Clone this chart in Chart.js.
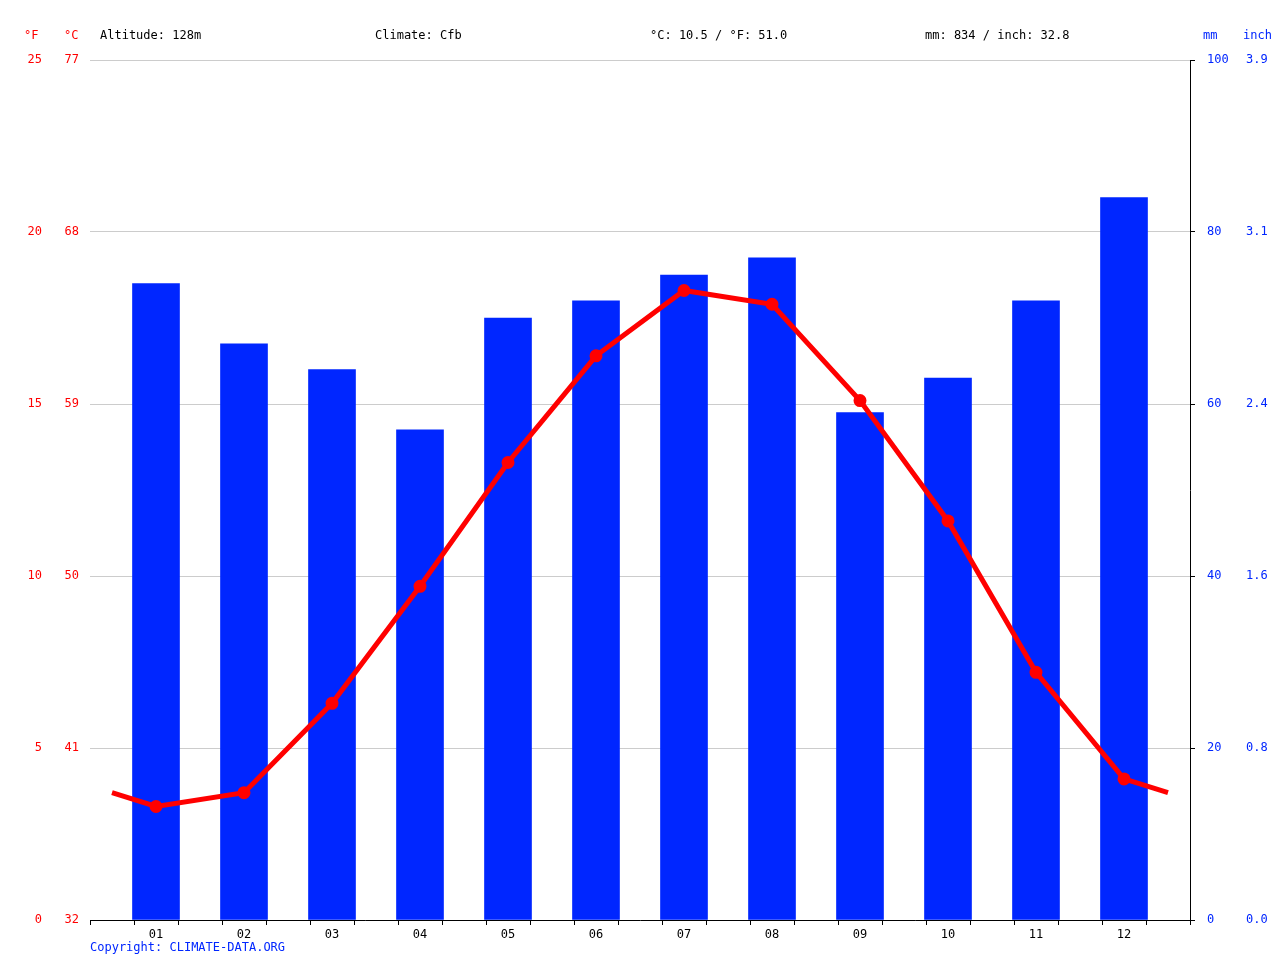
<!DOCTYPE html>
<html>
<head>
<meta charset="utf-8">
<script src="https://cdn.jsdelivr.net/npm/chart.js@4"></script>
<style>
  html, body { margin: 0; padding: 0; background: #fff; }
  #wrap { width: 1280px; height: 960px; }
</style>
</head>
<body>
<div id="wrap"><canvas id="c" width="1280" height="960"></canvas></div>
<script>
const months = ['01', '02', '03', '04', '05', '06', '07', '08', '09', '10', '11', '12'];
const precipMm = [74, 67, 64, 57, 70, 72, 75, 77, 59, 63, 72, 84];
const tempC = [3.3, 3.7, 6.3, 9.7, 13.3, 16.4, 18.3, 17.9, 15.1, 11.6, 7.2, 4.1];
const headerTexts = ['Altitude: 128m', 'Climate: Cfb', '°C: 10.5 / °F: 51.0', 'mm: 834 / inch: 32.8'];

const FONT = 'DejaVu Sans Mono';
Chart.defaults.font.family = FONT;
Chart.defaults.font.size = 12;

// line wraps around the year edges (Dec -> Jan)
const edgeTemp = (tempC[0] + tempC[11]) / 2;
const linePoints = [{ x: 0.5, y: edgeTemp }]
    .concat(tempC.map((t, i) => ({ x: i + 1, y: t })))
    .concat([{ x: 12.5, y: edgeTemp }]);

const fixW = w => function(axis) { axis.width = w; };

const overlay = {
    id: 'overlay',
    afterDraw(chart) {
        const ctx = chart.ctx;
        ctx.save();
        ctx.font = '12px ' + FONT;
        ctx.textBaseline = 'middle';
        ctx.fillStyle = '#000';
        const xs = [100, 375, 650, 925];
        headerTexts.forEach((t, i) => ctx.fillText(t, xs[i], 36));
        ctx.fillStyle = '#ff0000';
        ctx.fillText('°F', 24, 36);
        ctx.fillText('°C', 64, 36);
        ctx.fillStyle = '#0026ff';
        ctx.fillText('mm', 1203, 36);
        ctx.fillText('inch', 1243, 36);
        ctx.fillText('Copyright: CLIMATE-DATA.ORG', 90, 948);
        ctx.restore();
    }
};

new Chart(document.getElementById('c'), {
    data: {
        datasets: [
            {
                type: 'line',
                data: linePoints,
                xAxisID: 'x',
                yAxisID: 'yC',
                borderColor: '#ff0000',
                backgroundColor: '#ff0000',
                borderWidth: 5,
                pointRadius: ctx => (ctx.dataIndex === 0 || ctx.dataIndex === 13) ? 0 : 4,
                tension: 0,
                order: 0
            },
            {
                type: 'bar',
                data: precipMm.map((v, i) => ({ x: i + 1, y: v })),
                xAxisID: 'x',
                yAxisID: 'yMm',
                backgroundColor: '#0026ff',
                barThickness: 47,
                order: 1
            }
        ]
    },
    options: {
        responsive: false,
        animation: false,
        layout: { padding: { top: 60, left: 0, right: 0, bottom: 0 } },
        plugins: { legend: { display: false }, tooltip: { enabled: false } },
        scales: {
            x: {
                type: 'linear',
                min: 0.5, max: 12.5,
                afterFit: function(axis) { axis.height = 40; },
                afterBuildTicks: function(axis) {
                    const t = [];
                    for (let v = 0.5; v <= 12.5; v += 0.5) t.push({ value: v });
                    axis.ticks = t;
                },
                ticks: {
                    autoSkip: false,
                    maxRotation: 0,
                    color: '#000',
                    callback: v => Number.isInteger(v) ? months[v - 1] : ''
                },
                grid: { drawOnChartArea: false, color: '#000', tickLength: 5 },
                border: { color: '#000' }
            },
            yF: {
                position: 'left',
                min: 0, max: 25,
                afterFit: fixW(45),
                afterBuildTicks: function(axis) {
                    axis.ticks = [0, 5, 10, 15, 20, 25].map(v => ({ value: v }));
                },
                ticks: { color: '#ff0000', callback: v => Math.round(v * 9 / 5 + 32) },
                grid: { display: false },
                border: { display: false }
            },
            yC: {
                position: 'left',
                min: 0, max: 25,
                afterFit: fixW(45),
                ticks: { stepSize: 5, color: '#ff0000' },
                grid: { color: '#cccccc', drawTicks: false },
                border: { display: false }
            },
            yMm: {
                position: 'right',
                min: 0, max: 100,
                afterFit: fixW(45),
                ticks: { stepSize: 20, color: '#0026ff', padding: 12 },
                grid: { drawOnChartArea: false, color: '#000', tickLength: 5 },
                border: { color: '#000' }
            },
            yIn: {
                position: 'right',
                min: 0, max: 100,
                afterFit: fixW(45),
                afterBuildTicks: function(axis) {
                    axis.ticks = [0, 20, 40, 60, 80, 100].map(v => ({ value: v }));
                },
                ticks: { color: '#0026ff', callback: v => (v / 25.4).toFixed(1) },
                grid: { display: false },
                border: { display: false }
            }
        }
    },
    plugins: [overlay]
});
</script>
</body>
</html>
